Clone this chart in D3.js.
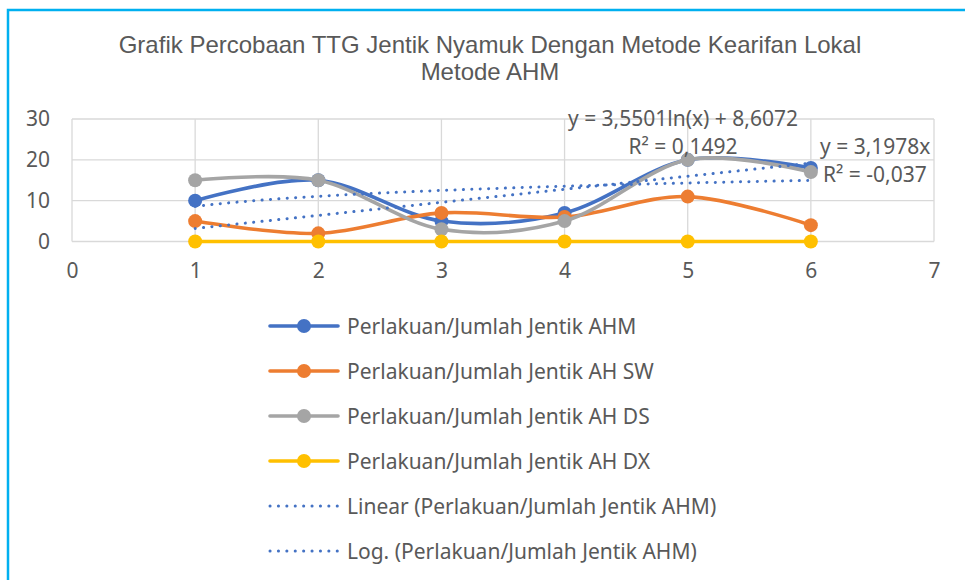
<!doctype html>
<html lang="id">
  <head>
    <meta charset="utf-8">
    <title>Grafik Percobaan TTG Jentik Nyamuk</title>
    <style>
      body { margin: 0; background: #fff; }
      svg text { font-family: "Noto Sans", "Open Sans", sans-serif; fill: #595959; }
      svg .title { font-family: "Liberation Sans", Arial, sans-serif; }
    </style>
  </head>
  <body>
    <div id="chart"></div>
    <script src="https://cdn.jsdelivr.net/npm/d3@7"></script>
    <script>
    // data
    var xValues = [1, 2, 3, 4, 5, 6];
    var seriesNames = [
      "Perlakuan/Jumlah Jentik AHM",
      "Perlakuan/Jumlah Jentik AH SW",
      "Perlakuan/Jumlah Jentik AH DS",
      "Perlakuan/Jumlah Jentik AH DX"
    ];
    var ahm = [10, 15, 5, 7, 20, 18];
    var ahSW = [5, 2, 7, 6, 11, 4];
    var ahDS = [15, 15, 3, 5, 20, 17];
    var ahDX = [0, 0, 0, 0, 0, 0];
    var seriesColors = ["#4472C4", "#ED7D31", "#A5A5A5", "#FFC000"];

    // trendlines for AHM (coefficients as printed on the chart)
    var linearSlope = 3.1978;
    var logCoef = [3.5501, 8.6072];
    var trendNames = ["Linear (Perlakuan/Jumlah Jentik AHM)", "Log. (Perlakuan/Jumlah Jentik AHM)"];

    var xTicks = [0, 1, 2, 3, 4, 5, 6, 7];
    var yTicks = [0, 10, 20, 30];

    var width = 965, height = 580;
    var svg = d3.select("#chart").append("svg")
        .attr("width", width)
        .attr("height", height);

    // chart border
    svg.append("path")
      .attr("d", "M8,600 L8,10 L980,10")
      .attr("fill", "none")
      .attr("stroke", "#00B0F0")
      .attr("stroke-width", 2.5);

    // title
    var title = svg.append("text")
      .attr("class", "title")
      .attr("text-anchor", "middle")
      .attr("font-size", 24);
    title.append("tspan").attr("x", 490).attr("y", 53)
      .text("Grafik Percobaan TTG Jentik Nyamuk Dengan Metode Kearifan Lokal");
    title.append("tspan").attr("x", 490).attr("y", 80)
      .text("Metode AHM");

    var x = d3.scaleLinear().domain([0, 7]).range([72, 934]);
    var y = d3.scaleLinear().domain([0, 30]).range([241.5, 119]);

    // gridlines
    svg.append("g").selectAll("line")
      .data(yTicks)
      .join("line")
      .attr("x1", x(0)).attr("x2", x(7))
      .attr("y1", d => y(d)).attr("y2", d => y(d))
      .attr("stroke", "#D9D9D9").attr("stroke-width", 1.3);

    svg.append("g").selectAll("line")
      .data(xTicks)
      .join("line")
      .attr("x1", d => x(d)).attr("x2", d => x(d))
      .attr("y1", y(0)).attr("y2", y(30))
      .attr("stroke", "#D9D9D9").attr("stroke-width", 1.3);

    // axes labels
    var yAxis = d3.axisLeft(y).tickValues(yTicks).tickSize(0).tickPadding(22);
    svg.append("g")
      .attr("transform", "translate(" + x(0) + ",0)")
      .call(yAxis)
      .call(g => g.select(".domain").remove())
      .selectAll("text")
      .attr("font-size", 21).attr("font-family", null).attr("fill", "#595959");

    var xAxis = d3.axisBottom(x).tickValues(xTicks).tickFormat(d3.format("d"))
      .tickSize(0).tickPadding(22);
    svg.append("g")
      .attr("transform", "translate(0," + y(0) + ")")
      .call(xAxis)
      .call(g => g.select(".domain").remove())
      .selectAll("text")
      .attr("font-size", 21).attr("font-family", null).attr("fill", "#595959");

    // series
    var allSeries = [ahm, ahSW, ahDS, ahDX];
    var line = d3.line()
      .x((d, i) => x(xValues[i]))
      .y(d => y(d))
      .curve(d3.curveCardinal.tension(0));

    allSeries.forEach(function(values, k) {
      var g = svg.append("g");
      g.append("path")
        .datum(values)
        .attr("d", line)
        .attr("fill", "none")
        .attr("stroke", seriesColors[k])
        .attr("stroke-width", 3.6)
        .attr("stroke-linecap", "round");
      g.selectAll("circle")
        .data(values)
        .join("circle")
        .attr("cx", (d, i) => x(xValues[i]))
        .attr("cy", d => y(d))
        .attr("r", 7)
        .attr("fill", seriesColors[k]);
    });

    // trendlines
    var trendX = d3.range(1, 6.001, 0.05);
    var trendLine = d3.line().x(d => x(d[0])).y(d => y(d[1]));
    var linearPts = trendX.map(t => [t, linearSlope * t]);
    var logPts = trendX.map(t => [t, logCoef[0] * Math.log(t) + logCoef[1]]);
    [linearPts, logPts].forEach(function(pts) {
      svg.append("path")
        .datum(pts)
        .attr("d", trendLine)
        .attr("fill", "none")
        .attr("stroke", "#4472C4")
        .attr("stroke-width", 3)
        .attr("stroke-linecap", "round")
        .attr("stroke-dasharray", "0.1 8.3");
    });

    // trendline labels
    var labels = svg.append("g").attr("font-size", 21);
    labels.append("text").attr("x", 683).attr("y", 126).attr("text-anchor", "middle")
      .text("y = 3,5501ln(x) + 8,6072");
    labels.append("text").attr("x", 683).attr("y", 154).attr("text-anchor", "middle")
      .text("R² = 0,1492");
    labels.append("text").attr("x", 820).attr("y", 154)
      .text("y = 3,1978x");
    labels.append("text").attr("x", 823).attr("y", 182)
      .text("R² = -0,037");

    // legend
    var legendItems = seriesNames.map((n, i) => ({name: n, color: seriesColors[i], marker: true}))
      .concat(trendNames.map(n => ({name: n, color: "#4472C4", marker: false})));

    var legend = svg.append("g")
      .selectAll("g")
      .data(legendItems)
      .join("g")
      .attr("transform", (d, i) => "translate(0," + (326 + i * 45) + ")");

    legend.append("line")
      .attr("x1", 270).attr("x2", 338)
      .attr("stroke", d => d.color)
      .attr("stroke-width", d => d.marker ? 3.6 : 3)
      .attr("stroke-linecap", "round")
      .attr("stroke-dasharray", d => d.marker ? null : "0.1 8.3");

    legend.filter(d => d.marker).append("circle")
      .attr("cx", 304).attr("r", 7)
      .attr("fill", d => d.color);

    legend.append("text")
      .attr("x", 347).attr("y", 7.5)
      .attr("font-size", 21)
      .text(d => d.name);
    </script>
  </body>
</html>
